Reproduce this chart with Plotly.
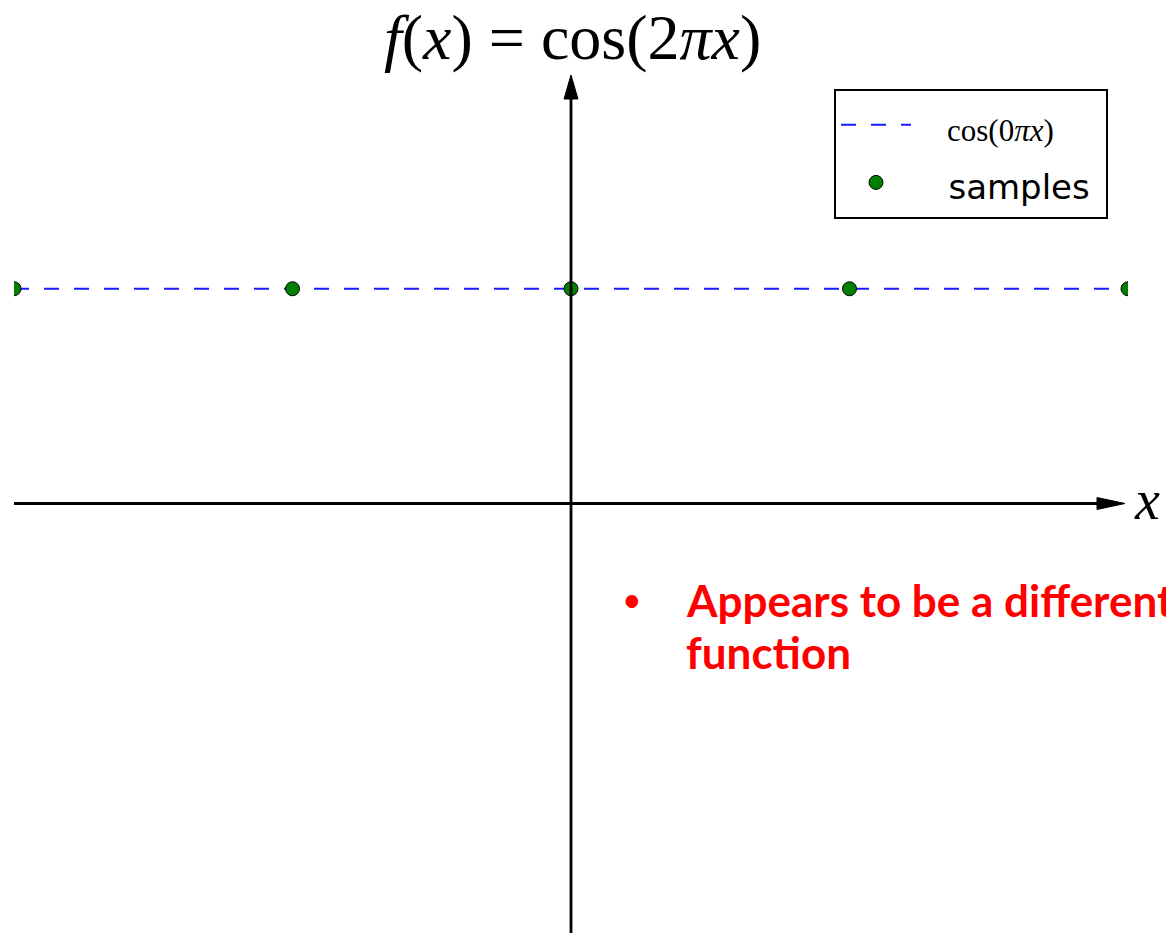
import plotly.graph_objects as go

# Continuous curve cos(0*pi*x) and the points where it is sampled
curve_x = [-2.0, 2.0]
curve_y = [1.0, 1.0]
sample_x = [-2, -1, 0, 1, 2]
sample_y = [1, 1, 1, 1, 1]

X_MIN, X_MAX = -2.0, 2.0
Y_MIN, Y_MAX = -2.0, 2.0

W, H = 1166, 933
M_L, M_R, M_T, M_B = 14, 38, 74, 0
px_x = (X_MAX - X_MIN) / (W - M_L - M_R)   # data units per pixel along x
px_y = (Y_MAX - Y_MIN) / (H - M_T - M_B)   # data units per pixel along y

NB = "\u00a0"

fig = go.Figure()

fig.add_trace(go.Scatter(
    x=curve_x, y=curve_y, mode="lines",
    name=f'<span style="font-family:Liberation Serif;font-size:31px">{NB*4}cos(0<i>π</i><i>x</i>)</span>',
    line=dict(color="#1a1aff", width=2, dash="15px,15px"),
))
fig.add_trace(go.Scatter(
    x=sample_x, y=sample_y, mode="markers",
    name=f'<span style="font-size:34px">{NB*3}samples{NB}</span>',
    marker=dict(color="#007f00", size=14, line=dict(color="black", width=1)),
    cliponaxis=True,
))

# Coordinate axes with arrowheads
ax_w = 2.8
x_tip = X_MIN + (1125 - M_L) * px_x
x_head = 28 * px_x
x_half = 6 * px_y
y_tip = Y_MAX - (75 - M_T) * px_y
y_head = 24 * px_y
y_half = 7 * px_x

shapes = [
    dict(type="line", x0=X_MIN, y0=0, x1=x_tip - x_head * 0.8, y1=0,
         line=dict(color="black", width=ax_w)),
    dict(type="path",
         path=f"M {x_tip} 0 L {x_tip - x_head} {x_half} L {x_tip - x_head} {-x_half} Z",
         fillcolor="black", line=dict(color="black", width=1)),
    dict(type="line", x0=0, y0=Y_MIN, x1=0, y1=y_tip - y_head * 0.8,
         line=dict(color="black", width=ax_w)),
    dict(type="path",
         path=f"M 0 {y_tip} L {-y_half} {y_tip - y_head} L {y_half} {y_tip - y_head} Z",
         fillcolor="black", line=dict(color="black", width=1)),
]

def paper_x(p):
    return (p - M_L) / (W - M_L - M_R)

def paper_y(p):
    return (H - M_B - p) / (H - M_T - M_B)

serif = "Liberation Serif"
annotations = [
    dict(text=f"<i>f</i>(<i>x</i>){NB}={NB}cos(2<i>π</i><i>x</i>)",
         x=paper_x(572), y=paper_y(37), xref="paper", yref="paper",
         xanchor="center", yanchor="middle", showarrow=False,
         font=dict(family=serif, size=64, color="black")),
    dict(text="<i>x</i>",
         x=paper_x(1147), y=paper_y(500), xref="paper", yref="paper",
         xanchor="center", yanchor="middle", showarrow=False,
         font=dict(family=serif, size=56, color="black")),
    dict(text="•",
         x=paper_x(632), y=paper_y(598), xref="paper", yref="paper",
         xanchor="center", yanchor="middle", showarrow=False,
         font=dict(family="Lato", size=34, color="#ff0000")),
    dict(text="<b>Appears to be a different</b>",
         x=paper_x(684), y=paper_y(600), xref="paper", yref="paper",
         xanchor="left", yanchor="middle", showarrow=False,
         font=dict(family="Lato", size=44, color="#ff0000")),
    dict(text="<b>function</b>",
         x=paper_x(684), y=paper_y(652), xref="paper", yref="paper",
         xanchor="left", yanchor="middle", showarrow=False,
         font=dict(family="Lato", size=44, color="#ff0000")),
]

fig.update_layout(
    width=W, height=H,
    margin=dict(l=M_L, r=M_R, t=M_T, b=M_B, pad=0),
    paper_bgcolor="white", plot_bgcolor="white",
    xaxis=dict(range=[X_MIN, X_MAX], visible=False, showgrid=False, zeroline=False),
    yaxis=dict(range=[Y_MIN, Y_MAX], visible=False, showgrid=False, zeroline=False),
    shapes=shapes,
    annotations=annotations,
    showlegend=True,
    legend=dict(
        x=paper_x(834), y=paper_y(89), xanchor="left", yanchor="top",
        bordercolor="black", borderwidth=2, bgcolor="white",
        font=dict(family="DejaVu Sans", size=42, color="black"),
        itemwidth=70,
    ),
)

fig.write_html("out.html")
